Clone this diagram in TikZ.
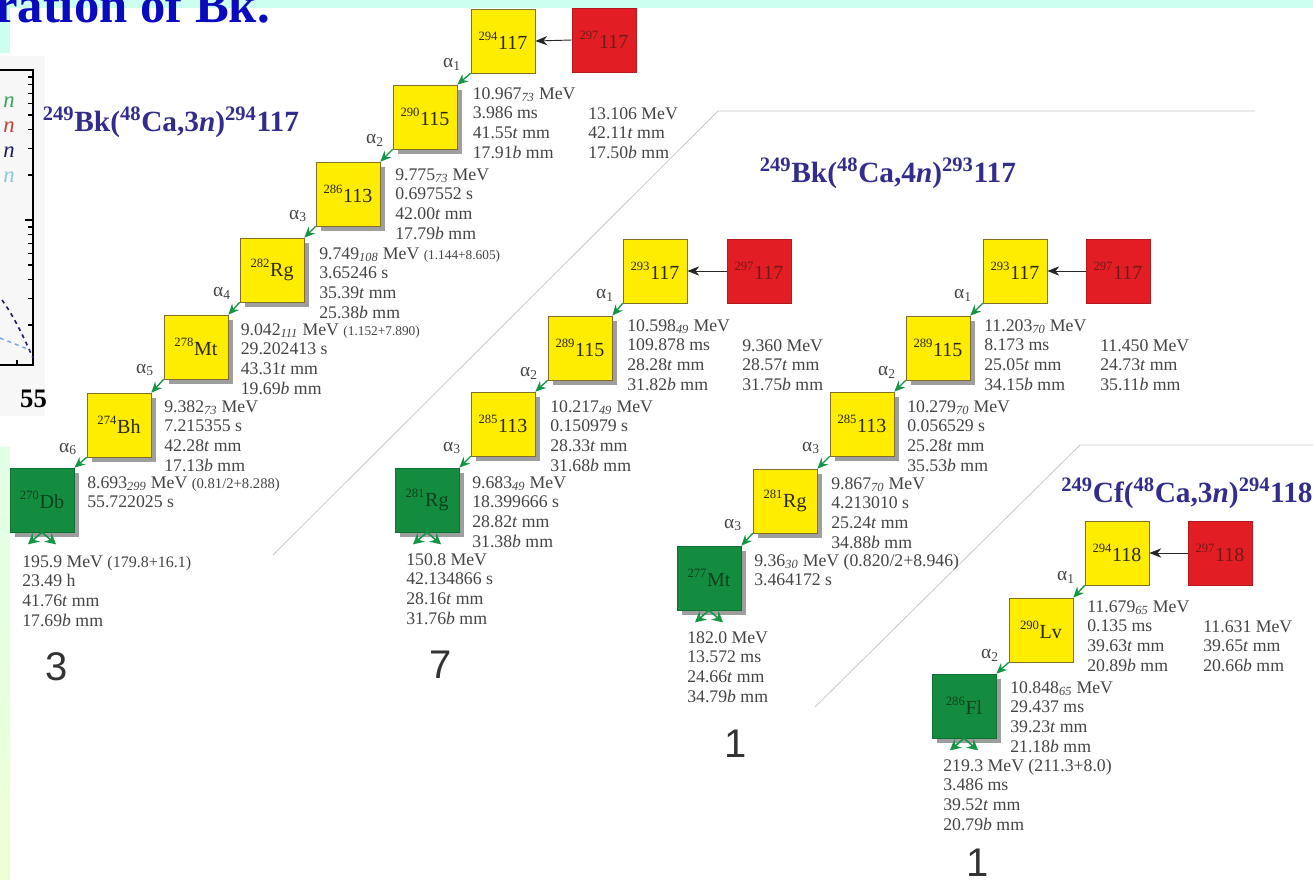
\documentclass[tikz,border=0pt]{standalone}
\usepackage{fontspec}
\setmainfont{Liberation Serif}
\newfontfamily\sansfam{Liberation Sans}
\usetikzlibrary{arrows.meta,shadows}
\definecolor{nyel}{RGB}{255,237,0}
\definecolor{nred}{RGB}{226,30,36}
\definecolor{ngrn}{RGB}{20,140,64}
\definecolor{bline}{RGB}{130,110,40}
\definecolor{shgray}{RGB}{158,158,158}
\definecolor{dgray}{RGB}{68,68,68}
\definecolor{tblue}{RGB}{50,45,140}
\definecolor{hblue}{RGB}{10,10,190}
\definecolor{agrn}{RGB}{20,150,70}
\definecolor{sepg}{RGB}{200,200,200}
\definecolor{cyanbg}{RGB}{204,255,240}
\definecolor{redtx}{RGB}{115,25,25}
\definecolor{grntx}{RGB}{10,65,28}
\definecolor{yeltx}{RGB}{45,40,10}
\definecolor{lgA}{RGB}{225,255,230}
\definecolor{lgB}{RGB}{238,255,214}
\definecolor{ln1}{RGB}{60,160,90}
\definecolor{ln2}{RGB}{200,60,60}
\definecolor{ln3}{RGB}{30,30,100}
\definecolor{ln4}{RGB}{140,200,220}
\newcommand\nuc[2]{\raisebox{7pt}{\fontsize{9.5}{10}\selectfont #1}\kern0.5pt#2}
\newcommand\subi[1]{\textsubscript{\itshape #1}}
\newcommand\tI{\textit{t}}
\newcommand\bI{\textit{b}}
\newcommand\dl[1]{\begin{tabular}[t]{@{}l@{}}#1\end{tabular}}
\newcommand\pS[1]{{\fontsize{10}{11}\selectfont #1}}
\newcommand\pM[1]{{\fontsize{11}{12}\selectfont #1}}
\tikzset{
  box/.style={draw=bline, line width=0.5pt, minimum width=48pt, minimum height=48pt, inner sep=0pt, font=\fontsize{15}{16}\selectfont},
  yelbox/.style={box, fill=nyel, text=yeltx},
  redbox/.style={box, fill=nred, draw=nred!80!black, text=redtx},
  grnbox/.style={box, fill=ngrn, draw=ngrn!80!black, text=grntx},
  shd/.style={drop shadow={shadow xshift=3.75pt, shadow yshift=-3.75pt, fill=shgray, opacity=1}},
  dat/.style={inner sep=0pt, anchor=base west, text=dgray, font=\fontsize{13.3}{14.85}\selectfont},
  alab/.style={inner sep=0pt, text=dgray, font=\fontsize{14.5}{14.5}\selectfont},
  ttl/.style={inner sep=0pt, anchor=base, text=tblue, font=\fontsize{22}{24}\selectfont\bfseries},
  bign/.style={inner sep=0pt, anchor=base, text=black!80, font=\sansfam\fontsize{30}{30}\selectfont},
  dec/.style={draw=agrn, line width=1pt, -{Stealth[length=8pt,width=7pt]}},
  feed/.style={draw=black!85, line width=0.7pt, -{Stealth[length=9pt,width=7pt]}},
  fis/.style={draw=agrn, line width=1.2pt, -{Stealth[length=8pt,width=8.5pt]}},
  sep/.style={draw=sepg, line width=0.6pt},
  legn/.style={inner sep=0pt, font=\fontsize{17}{17}\selectfont\itshape}
}
\begin{document}
\begin{tikzpicture}[x=0.75pt,y=-0.75pt]
\useasboundingbox (0,0) rectangle (1313,879);
\fill[white] (0,0) rectangle (1313,879);
% top banner
\fill[cyanbg] (0,0) rectangle (1313,8);
\fill[cyanbg] (0,0) rectangle (10,53);
\node[anchor=base east, inner sep=0pt, text=hblue, font=\fontsize{38}{40}\selectfont\bfseries] (hdr) at (270,22) {ration of Bk.};
% left graph fragment
\fill[black!3] (0,56) rectangle (45,416);
\draw[line width=1.5pt] (0,70) -- (33,70) -- (33,365) -- (0,365);
\draw[line width=1pt] (33,70) -- ++(-8,0) (33,220) -- ++(-8,0) (17,365) -- ++(0,-5);
\foreach \m in {2,...,9} {
  \draw[line width=1pt] (33,{220-150*log10(\m)}) -- ++(-5,0);
  \draw[line width=1pt] (33,{370-150*log10(\m)}) -- ++(-5,0);
}
\node[legn, text=ln1] (lg1) at (9,102) {n};
\node[legn, text=ln2] (lg2) at (9,127) {n};
\node[legn, text=ln3] (lg3) at (9,152) {n};
\node[legn, text=ln4] (lg4) at (9,177) {n};
\draw[dashed, line width=1.2pt, ln3] (2,300) .. controls (15,318) and (25,340) .. (33,358);
\draw[dashed, line width=1pt, ln4!80!blue] (0,338) .. controls (10,342) and (20,346) .. (30,350);
\node[inner sep=0pt, anchor=base, font=\fontsize{20}{20}\selectfont\bfseries] (n55) at (33.5,407) {55};
\shade[top color=lgA, bottom color=lgB] (0,447) rectangle (10,879);
% separators
\coordinate (s1a) at (273,555); \coordinate (s1b) at (718,111); \coordinate (s1c) at (1255,111);
\draw[sep] (s1a) -- (s1b) -- (s1c);
\coordinate (s2a) at (815,707); \coordinate (s2b) at (1080,445); \coordinate (s2c) at (1313,445);
\draw[sep] (s2a) -- (s2b) -- (s2c);
% titles
\node[ttl] (t1) at (171,131) {\textsuperscript{249}Bk(\textsuperscript{48}Ca,3\textit{n})\textsuperscript{294}117};
\node[ttl] (t2) at (888,182) {\textsuperscript{249}Bk(\textsuperscript{48}Ca,4\textit{n})\textsuperscript{293}117};
\node[ttl] (t3) at (1187,502) {\textsuperscript{249}Cf(\textsuperscript{48}Ca,3\textit{n})\textsuperscript{294}118};
% chain 1
\node[yelbox] (A294) at (503,41) {\nuc{294}{117}};
\node[redbox] (R297a) at (604,40) {\nuc{297}{117}};
\node[yelbox,shd] (B290) at (425,117) {\nuc{290}{115}};
\node[yelbox,shd] (B286) at (348,194) {\nuc{286}{113}};
\node[yelbox,shd] (B282) at (272,270) {\nuc{282}{Rg}};
\node[yelbox,shd] (B278) at (196,347) {\nuc{278}{Mt}};
\node[yelbox,shd] (B274) at (119,425) {\nuc{274}{Bh}};
\node[grnbox,shd] (G270) at (42,500) {\nuc{270}{Db}};
% chain 2
\node[yelbox] (A293) at (655,271) {\nuc{293}{117}};
\node[redbox] (R297b) at (759,271) {\nuc{297}{117}};
\node[yelbox,shd] (B289) at (580,348) {\nuc{289}{115}};
\node[yelbox,shd] (B285) at (503,424) {\nuc{285}{113}};
\node[grnbox,shd] (G281) at (427,500) {\nuc{281}{Rg}};
% chain 3
\node[yelbox] (A293c) at (1015,271) {\nuc{293}{117}};
\node[redbox] (R297c) at (1118,271) {\nuc{297}{117}};
\node[yelbox,shd] (B289c) at (938,348) {\nuc{289}{115}};
\node[yelbox,shd] (B285c) at (862,424) {\nuc{285}{113}};
\node[yelbox,shd] (B281c) at (785,501) {\nuc{281}{Rg}};
\node[grnbox,shd] (G277) at (709,578) {\nuc{277}{Mt}};
% chain 4
\node[yelbox] (A294d) at (1117,553) {\nuc{294}{118}};
\node[redbox] (R297d) at (1220,553) {\nuc{297}{118}};
\node[yelbox] (B290d) at (1041,630) {\nuc{290}{Lv}};
\node[grnbox,shd] (G286) at (964,706) {\nuc{286}{Fl}};
% feeding arrows
\draw[feed] (R297a.west) -- (A294.east);
\draw[feed] (R297b.west) -- (A293.east);
\draw[feed] (R297c.west) -- (A293c.east);
\draw[feed] (R297d.west) -- (A294d.east);
% decay arrows
\draw[dec] (A294.south west) -- (B290.north east);
\draw[dec] (B290.south west) -- (B286.north east);
\draw[dec] (B286.south west) -- (B282.north east);
\draw[dec] (B282.south west) -- (B278.north east);
\draw[dec] (B278.south west) -- (B274.north east);
\draw[dec] (B274.south west) -- (G270.north east);
\draw[dec] (A293.south west) -- (B289.north east);
\draw[dec] (B289.south west) -- (B285.north east);
\draw[dec] (B285.south west) -- (G281.north east);
\draw[dec] (A293c.south west) -- (B289c.north east);
\draw[dec] (B289c.south west) -- (B285c.north east);
\draw[dec] (B285c.south west) -- (B281c.north east);
\draw[dec] (B281c.south west) -- (G277.north east);
\draw[dec] (A294d.south west) -- (B290d.north east);
\draw[dec] (B290d.south west) -- (G286.north east);
% fission marks
\foreach \g in {G270,G281,G277,G286} {
  \path (\g.south) ++(-14,12) coordinate (\g fa);
  \path (\g.south) ++(14,12) coordinate (\g fb);
  \draw[fis] (\g.south) -- (\g fa);
  \draw[fis] (\g.south) -- (\g fb);
}
% alpha labels
\node[alab] (a11) at (452,64) {α\textsubscript{1}};
\node[alab] (a12) at (375,140) {α\textsubscript{2}};
\node[alab] (a13) at (298,216) {α\textsubscript{3}};
\node[alab] (a14) at (222,293) {α\textsubscript{4}};
\node[alab] (a15) at (145,370) {α\textsubscript{5}};
\node[alab] (a16) at (68,449) {α\textsubscript{6}};
\node[alab] (a21) at (605,295) {α\textsubscript{1}};
\node[alab] (a22) at (529,373) {α\textsubscript{2}};
\node[alab] (a23) at (452,448) {α\textsubscript{3}};
\node[alab] (a31) at (963,295) {α\textsubscript{1}};
\node[alab] (a32) at (887,372) {α\textsubscript{2}};
\node[alab] (a33) at (811,448) {α\textsubscript{3}};
\node[alab] (a34) at (733,525) {α\textsubscript{3}};
\node[alab] (a41) at (1066,577) {α\textsubscript{1}};
\node[alab] (a42) at (990,655) {α\textsubscript{2}};
% data chain 1
\node[dat] (d290a) at (472.5,99) {\dl{10.967\subi{73} MeV\\3.986 ms\\41.55\tI{} mm\\17.91\bI{} mm}};
\node[dat] (d290b) at (588,119) {\dl{13.106 MeV\\42.11\tI{} mm\\17.50\bI{} mm}};
\node[dat] (d286) at (395,180) {\dl{9.775\subi{73} MeV\\0.697552 s\\42.00\tI{} mm\\17.79\bI{} mm}};
\node[dat] (d282) at (319,259) {\dl{9.749\subi{108} MeV \pS{(1.144+8.605)}\\3.65246 s\\35.39\tI{} mm\\25.38\bI{} mm}};
\node[dat] (d278) at (240.5,335) {\dl{9.042\subi{111} MeV \pS{(1.152+7.890)}\\29.202413 s\\43.31\tI{} mm\\19.69\bI{} mm}};
\node[dat] (d274) at (164,412) {\dl{9.382\subi{73} MeV\\7.215355 s\\42.28\tI{} mm\\17.13\bI{} mm}};
\node[dat] (d270) at (87,488) {\dl{8.693\subi{299} MeV \pM{(0.81/2+8.288)}\\55.722025 s}};
\node[dat] (d270f) at (22,567) {\dl{195.9 MeV {\fontsize{12}{13}\selectfont(179.8+16.1)}\\23.49 h\\41.76\tI{} mm\\17.69\bI{} mm}};
% data chain 2
\node[dat] (d289) at (627,331) {\dl{10.598\subi{49} MeV\\109.878 ms\\28.28\tI{} mm\\31.82\bI{} mm}};
\node[dat] (d289b) at (742,351) {\dl{9.360 MeV\\28.57\tI{} mm\\31.75\bI{} mm}};
\node[dat] (d285) at (550,412) {\dl{10.217\subi{49} MeV\\0.150979 s\\28.33\tI{} mm\\31.68\bI{} mm}};
\node[dat] (d281) at (472,488) {\dl{9.683\subi{49} MeV\\18.399666 s\\28.82\tI{} mm\\31.38\bI{} mm}};
\node[dat] (d281f) at (406,565) {\dl{150.8 MeV\\42.134866 s\\28.16\tI{} mm\\31.76\bI{} mm}};
% data chain 3
\node[dat] (d289c) at (984,331) {\dl{11.203\subi{70} MeV\\8.173 ms\\25.05\tI{} mm\\34.15\bI{} mm}};
\node[dat] (d289cb) at (1100,351) {\dl{11.450 MeV\\24.73\tI{} mm\\35.11\bI{} mm}};
\node[dat] (d285c) at (907,412) {\dl{10.279\subi{70} MeV\\0.056529 s\\25.28\tI{} mm\\35.53\bI{} mm}};
\node[dat] (d281c) at (831,489) {\dl{9.867\subi{70} MeV\\4.213010 s\\25.24\tI{} mm\\34.88\bI{} mm}};
\node[dat] (d277) at (754,566) {\dl{9.36\subi{30} MeV (0.820/2+8.946)\\3.464172 s}};
\node[dat] (d277f) at (687,643) {\dl{182.0 MeV\\13.572 ms\\24.66\tI{} mm\\34.79\bI{} mm}};
% data chain 4
\node[dat] (d290d) at (1087,612) {\dl{11.679\subi{65} MeV\\0.135 ms\\39.63\tI{} mm\\20.89\bI{} mm}};
\node[dat] (d290db) at (1203,632) {\dl{11.631 MeV\\39.65\tI{} mm\\20.66\bI{} mm}};
\node[dat] (d286d) at (1010,693) {\dl{10.848\subi{65} MeV\\29.437 ms\\39.23\tI{} mm\\21.18\bI{} mm}};
\node[dat] (d286f) at (943,771) {\dl{219.3 MeV (211.3+8.0)\\3.486 ms\\39.52\tI{} mm\\20.79\bI{} mm}};
% event counts
\node[bign] (c3) at (57,680) {3};
\node[bign] (c7) at (441,678) {7};
\node[bign] (c1a) at (736,757) {1};
\node[bign] (c1b) at (978,876) {1};
\end{tikzpicture}
\end{document}
